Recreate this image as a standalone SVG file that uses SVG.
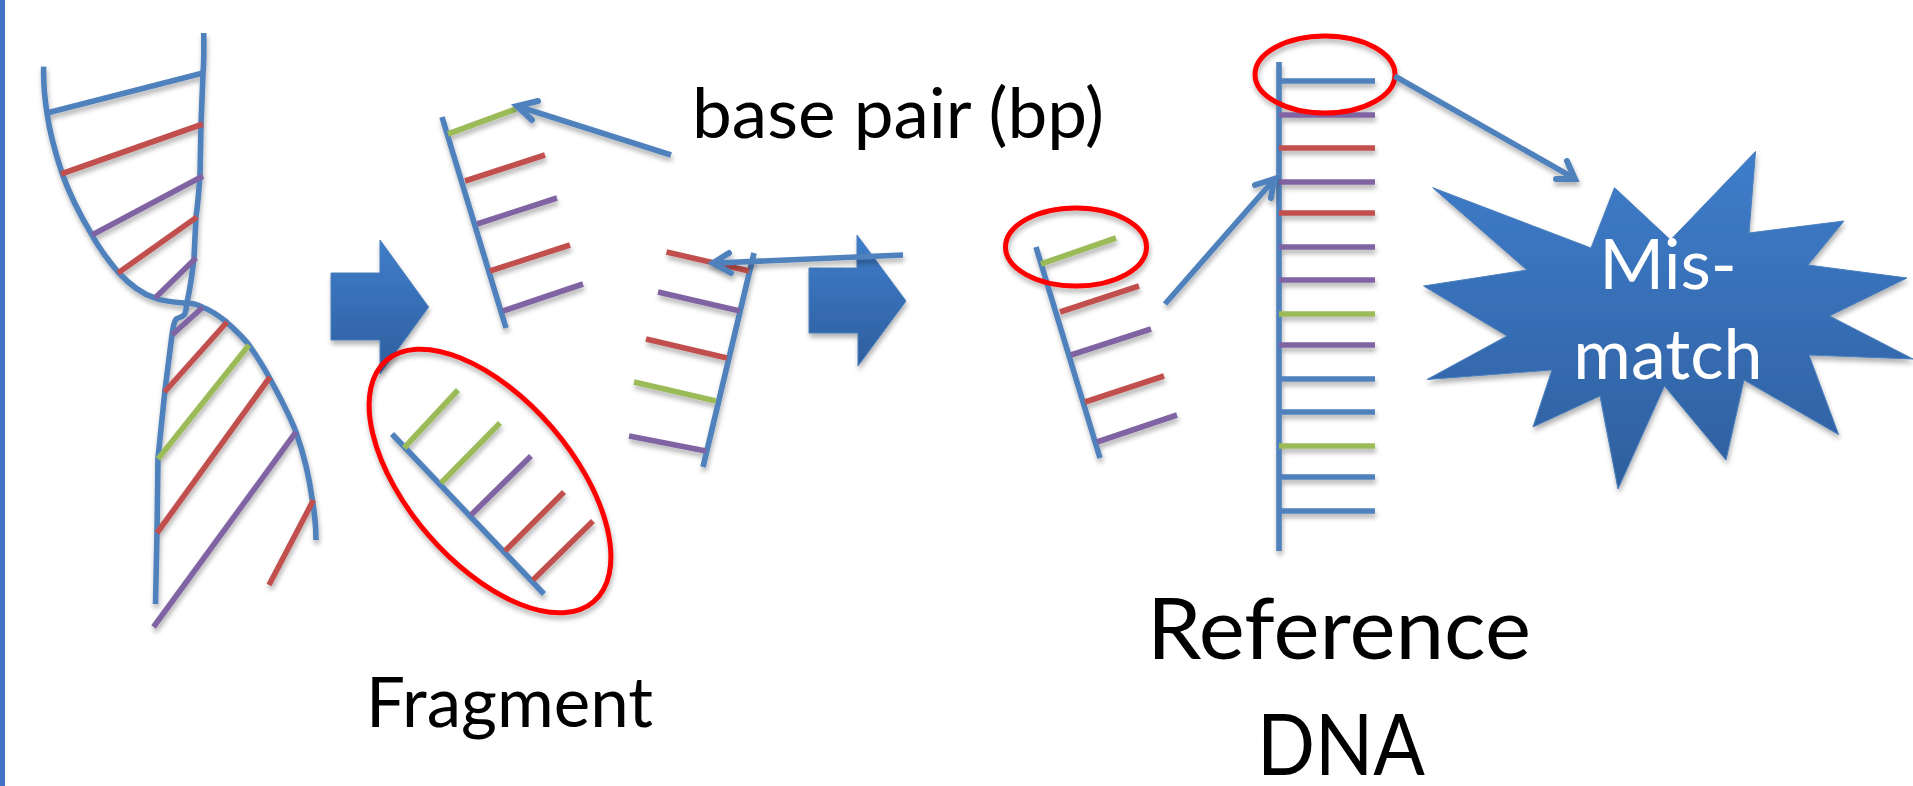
<svg xmlns="http://www.w3.org/2000/svg" width="1913" height="786" viewBox="0 0 1913 786">
  <style>
    line, path.s { fill: none; stroke-width: 5.6; stroke-linecap: butt; }
    .b { stroke: #4f81bd; }
    .r { stroke: #c0504d; }
    .p { stroke: #8064a2; }
    .g { stroke: #9bbb59; }
    .halo { fill: none; stroke: #ff0000; stroke-width: 5; }
    .head { fill: none; stroke: #4f81bd; stroke-width: 6; stroke-linecap: round; stroke-linejoin: miter; }
    .block { fill: url(#fillBlue); stroke: #4a7ebb; stroke-width: 1; }
    text { font-family: Lato, "Liberation Sans", sans-serif; fill: #000; }
    .big { font-size: 86px; }
    .mid { font-size: 70px; }
    .burst { font-size: 70px; fill: #fff; text-anchor: middle; }
  </style>
  <defs>
    <linearGradient id="fillBlue" x1="0" y1="0" x2="0" y2="1">
      <stop offset="0" stop-color="#3f7dcb"/>
      <stop offset="1" stop-color="#2e5f9e"/>
    </linearGradient>
    <filter id="soft" x="-20%" y="-20%" width="140%" height="140%">
      <feDropShadow dx="1" dy="4" stdDeviation="2.5" flood-color="#000" flood-opacity="0.3"/>
    </filter>
  </defs>

  <rect id="edge-bar" x="0" y="0" width="5" height="786" fill="#4472c4"/>

  <!-- twisted double strand -->
  <g id="helix" filter="url(#soft)">
    <path class="s b" d="M43.7 66.7C43 85 45 100 47 113C50 135 55 152 62 173C70 196 80 215 92 235C100 250 108 260 118 272C130 285 142 294 155 298C165 302 175 302 184 303C192 303 197 304 202 307C210 310 218 315 226.5 322C235 330 242 336 249 345C256 355 262 364 269 377C280 397 289 414 296 432C304 455 309 475 312 498C315 515 316 525 316 540"/>
    <path class="s b" d="M203.7 33C204 50 204 62 203 73L201 125L200 175C199 190 198 203 196 217L194 258C192 275 190 290 187 302C186 310 186 313 184 315C180 319 177 317 175.5 320C173 325 173 330 172 335L165 390L158 458L157 533L155.5 604"/>
    <line class="b" x1="47" y1="113" x2="203" y2="73"/>
    <line class="r" x1="61" y1="174" x2="203" y2="124"/>
    <line class="p" x1="92" y1="235" x2="203" y2="176"/>
    <line class="r" x1="118" y1="273" x2="197" y2="217"/>
    <line class="p" x1="155" y1="298" x2="196" y2="258"/>
    <line class="p" x1="203" y1="307" x2="172" y2="335"/>
    <line class="r" x1="227" y1="322" x2="164.5" y2="392"/>
    <line class="g" x1="249" y1="345" x2="158" y2="459"/>
    <line class="r" x1="270" y1="377" x2="157" y2="533"/>
    <line class="p" x1="296" y1="432" x2="153.5" y2="627"/>
    <line class="r" x1="313.5" y1="500" x2="269" y2="585"/>
  </g>

  <g id="step-arrow-1" filter="url(#soft)">
    <polygon class="block" points="331,273 380,273 380,240 428.6,307 380,374 380,340 331,340"/>
  </g>
  <g id="step-arrow-2" filter="url(#soft)">
    <polygon class="block" points="809,268 857,268 857,235 906,301 858,366 858,333 809,333"/>
  </g>

  <g id="fragment-a" filter="url(#soft)">
    <line class="b" x1="442" y1="117" x2="506" y2="328"/>
    <line class="g" x1="448" y1="134" x2="516" y2="109"/>
    <line class="r" x1="465" y1="181" x2="545" y2="155"/>
    <line class="p" x1="477" y1="224" x2="557" y2="198"/>
    <line class="r" x1="490" y1="271" x2="570" y2="245"/>
    <line class="p" x1="503" y1="311" x2="583" y2="284"/>
  </g>

  <g id="fragment-circled" filter="url(#soft)">
    <line class="b" x1="392" y1="434" x2="544" y2="594"/>
    <line class="g" x1="404" y1="448" x2="458" y2="390"/>
    <line class="g" x1="441" y1="483" x2="500" y2="423"/>
    <line class="p" x1="471" y1="515" x2="531" y2="456"/>
    <line class="r" x1="505" y1="551" x2="564" y2="492"/>
    <line class="r" x1="533" y1="580" x2="593" y2="521"/>
    <ellipse class="halo" cx="490" cy="481" rx="159" ry="82" transform="rotate(49.3 490 481)"/>
  </g>

  <g id="fragment-b" filter="url(#soft)">
    <line class="b" x1="754" y1="253" x2="703" y2="467"/>
    <line class="r" x1="666.5" y1="252" x2="749" y2="271"/>
    <line class="p" x1="658" y1="292" x2="740" y2="311"/>
    <line class="r" x1="646" y1="339" x2="727" y2="358"/>
    <line class="g" x1="634" y1="382" x2="716" y2="401"/>
    <line class="p" x1="629" y1="436" x2="706" y2="451"/>
  </g>

  <g id="fragment-c" filter="url(#soft)">
    <line class="b" x1="1036" y1="247" x2="1100" y2="458"/>
    <line class="g" x1="1041" y1="264" x2="1116" y2="238"/>
    <line class="r" x1="1060" y1="312" x2="1139" y2="286"/>
    <line class="p" x1="1071" y1="355" x2="1151" y2="329"/>
    <line class="r" x1="1085" y1="402" x2="1164" y2="376"/>
    <line class="p" x1="1097" y1="442" x2="1177" y2="415"/>
    <ellipse class="halo" cx="1076" cy="247" rx="70.5" ry="39"/>
  </g>

  <g id="reference-strand" filter="url(#soft)">
    <line class="b" x1="1279" y1="62" x2="1279" y2="551"/>
    <line class="b" x1="1279" y1="81" x2="1375" y2="81"/>
    <line class="p" x1="1279" y1="115" x2="1375" y2="115"/>
    <line class="r" x1="1279" y1="148" x2="1375" y2="148"/>
    <line class="p" x1="1279" y1="182" x2="1375" y2="182"/>
    <line class="r" x1="1279" y1="213" x2="1375" y2="213"/>
    <line class="p" x1="1279" y1="247" x2="1375" y2="247"/>
    <line class="p" x1="1279" y1="280" x2="1375" y2="280"/>
    <line class="g" x1="1279" y1="314" x2="1375" y2="314"/>
    <line class="p" x1="1279" y1="345" x2="1375" y2="345"/>
    <line class="b" x1="1279" y1="379" x2="1375" y2="379"/>
    <line class="b" x1="1279" y1="412" x2="1375" y2="412"/>
    <line class="g" x1="1279" y1="446" x2="1375" y2="446"/>
    <line class="b" x1="1279" y1="477" x2="1375" y2="477"/>
    <line class="b" x1="1279" y1="511" x2="1375" y2="511"/>
    <ellipse class="halo" cx="1325" cy="74.5" rx="70" ry="38.5"/>
  </g>

  <g id="mismatch" filter="url(#soft)">
    <polygon class="block" points="1432.7,187.7 1591,248 1614.5,187.7 1670.5,240 1755.5,151.5 1749,233 1844,221 1808,265 1907,278 1829.5,316 1913,359 1809,355 1838.6,434.6 1744,380 1726,460 1664.5,386 1618,489 1600,396 1533,427 1552,370 1427,379.5 1507,336 1423.6,286 1527,270"/>
    <text class="burst" x="1668" y="289">Mis-</text>
    <text class="burst" x="1668" y="379">match</text>
  </g>

  <!-- callout arrows -->
  <g id="connectors" filter="url(#soft)">
    <line class="b" x1="671" y1="155" x2="520" y2="107"/>
    <polyline class="head" points="538,101 517,106 532,120"/>
    <line class="b" x1="903" y1="255" x2="716" y2="263"/>
    <polyline class="head" points="729,253 713,263 731,273"/>
    <line class="b" x1="1165" y1="304" x2="1272" y2="182"/>
    <polyline class="head" points="1255,185 1274,179 1271,198"/>
    <line class="b" x1="1394.5" y1="76" x2="1572" y2="177"/>
    <polyline class="head" points="1556,179 1575,179 1567,161"/>
  </g>

  <text id="label-bp" class="mid" x="692" y="138" textLength="412" lengthAdjust="spacingAndGlyphs">base pair (bp)</text>
  <text id="label-fragment" class="mid" x="366" y="727" textLength="287" lengthAdjust="spacingAndGlyphs">Fragment</text>
  <text id="label-reference" class="big" x="1147" y="659" textLength="384" lengthAdjust="spacingAndGlyphs">Reference</text>
  <text id="label-dna" class="big" x="1257" y="775" textLength="168" lengthAdjust="spacingAndGlyphs">DNA</text>
</svg>
